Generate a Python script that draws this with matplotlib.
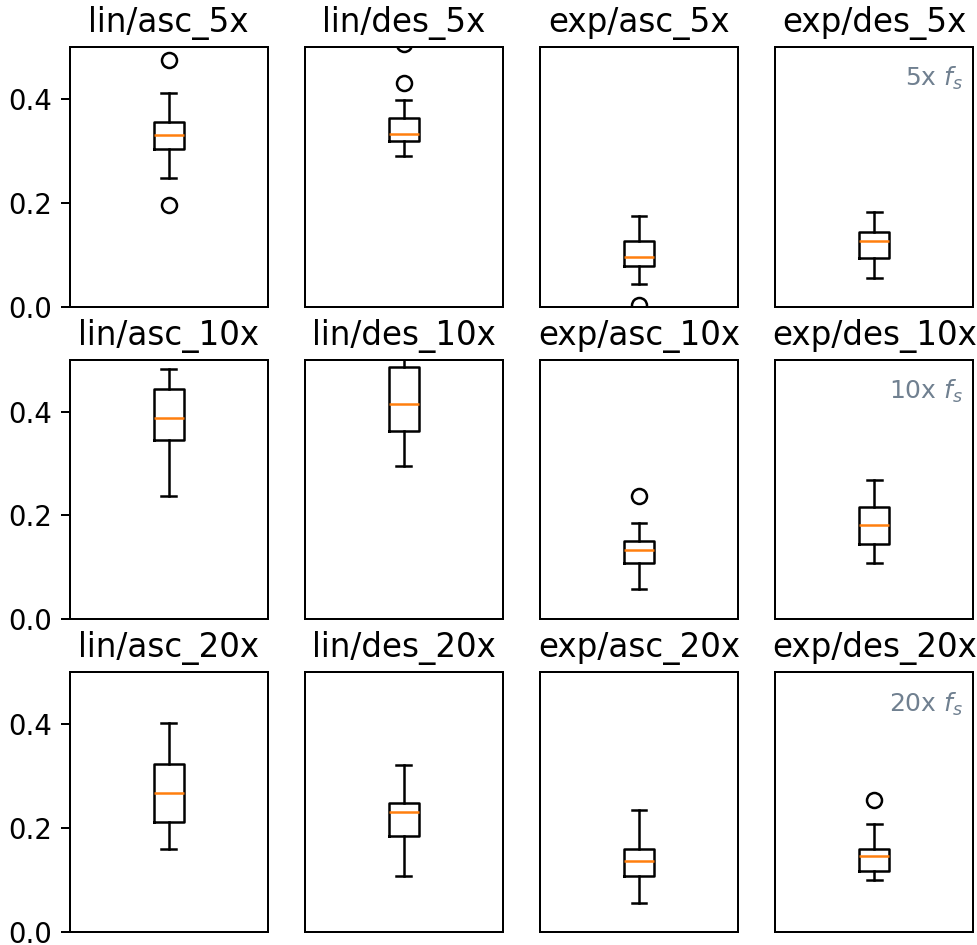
import matplotlib
matplotlib.use('Agg')
import matplotlib.pyplot as plt

# column = curve type, row = oversampling rate
curves = ['lin/asc', 'lin/des', 'exp/asc', 'exp/des']
rates = ['5x', '10x', '20x']

# box stats, one list per row (rate), one entry per curve
q1 = [[0.304, 0.319, 0.078, 0.093],
      [0.346, 0.362, 0.108, 0.145],
      [0.212, 0.185, 0.108, 0.118]]
med = [[0.330, 0.333, 0.096, 0.126],
       [0.388, 0.415, 0.133, 0.182],
       [0.268, 0.231, 0.137, 0.147]]
q3 = [[0.355, 0.363, 0.126, 0.144],
      [0.444, 0.486, 0.151, 0.216],
      [0.324, 0.249, 0.159, 0.159]]
whislo = [[0.248, 0.290, 0.044, 0.056],
          [0.238, 0.295, 0.058, 0.108],
          [0.160, 0.108, 0.055, 0.100]]
whishi = [[0.411, 0.397, 0.174, 0.183],
          [0.481, 0.520, 0.185, 0.269],
          [0.402, 0.321, 0.234, 0.207]]
fliers = [[[0.475, 0.195], [0.430, 0.505], [0.003], []],
          [[], [], [0.238], []],
          [[], [], [], [0.255]]]


def main():
    fig, axes = plt.subplots(3, 4, figsize=(977 / 180, 945 / 180), dpi=180)
    fig.subplots_adjust(left=0.0716, right=0.9959, top=0.9503, bottom=0.0138,
                        wspace=0.19, hspace=0.204)

    for i, rate in enumerate(rates):
        for j, curve in enumerate(curves):
            ax = axes[i, j]
            stats = [dict(med=med[i][j], q1=q1[i][j], q3=q3[i][j],
                          whislo=whislo[i][j], whishi=whishi[i][j],
                          fliers=fliers[i][j])]
            ax.bxp(stats)
            ax.set_xticks([])
            ax.set_ylim(0, 0.5)
            if j == 0:
                ax.set_yticks([0.0, 0.2, 0.4])
                ax.tick_params(axis='y', labelsize=11)
            else:
                ax.set_yticks([])
            ax.set_title(f'{curve}_{rate}', fontsize=13)
            if j == len(curves) - 1:
                ax.text(0.95, 0.93, f'{rate} $f_s$', transform=ax.transAxes,
                        ha='right', va='top', color='#708090', fontsize=10)

    fig.savefig('out.png', dpi=180)


if __name__ == '__main__':
    main()
